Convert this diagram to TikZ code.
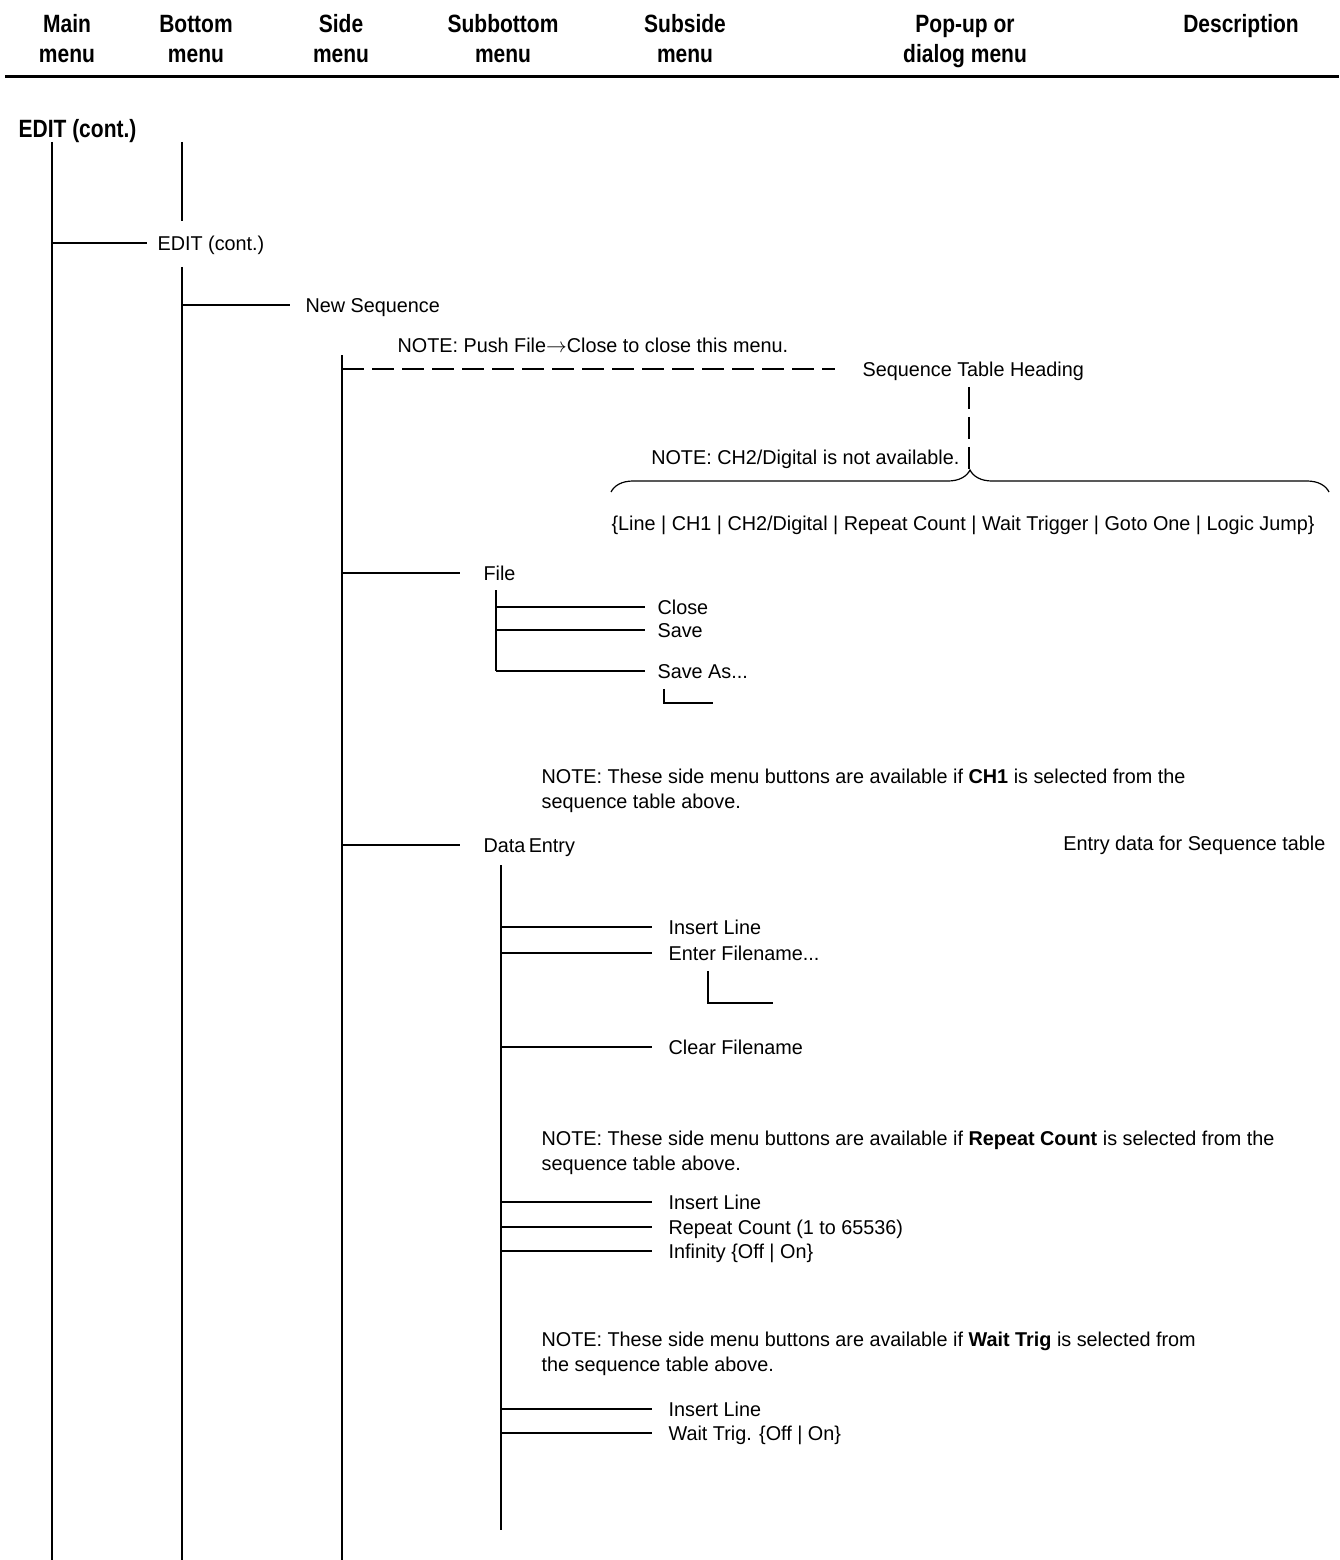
\documentclass[tikz,border=0pt]{standalone}
\usepackage{fontspec}
\setmainfont{Liberation Sans}[FakeStretch=0.99]
\newfontfamily\headfont{Liberation Sans}[FakeStretch=0.84]
\usetikzlibrary{decorations.pathreplacing}

\tikzset{
  menu/.style={anchor=west, inner sep=0pt, text height=14.5pt, text depth=0pt},
  head/.style={anchor=base, align=center, inner sep=0pt, font=\headfont\bfseries\fontsize{25}{30}\selectfont},
  note/.style={anchor=base west, align=left, inner sep=0pt},
  dashline/.style={dash pattern=on 22pt off 8pt},
}

\begin{document}
\begin{tikzpicture}[x=1pt, y=-1pt, line width=1.2pt,
    font=\fontsize{20}{25}\selectfont]
  \useasboundingbox (0,0) rectangle (1339,1560);

  % column headings (base = last line)
  \node[head] (hMain) at (67,63) {Main\\menu};
  \node[head] (hBottom) at (196,63) {Bottom\\menu};
  \node[head] (hSide) at (341,63) {Side\\menu};
  \node[head] (hSubbottom) at (503,63) {Subbottom\\menu};
  \node[head] (hSubside) at (685,63) {Subside\\menu};
  \node[head] (hPopup) at (965,63) {Pop-up or\\dialog menu};
  \node[head] (hDesc) at (1241,33) {Description};
  \draw[line width=3pt] (5,77) -- (1339,77);

  % trunks
  \coordinate (mainT) at (52,142);   \coordinate (mainB) at (52,1560);
  \coordinate (botT) at (182,142);   \coordinate (botB) at (182,1560);
  \coordinate (sideT) at (342,355);  \coordinate (sideB) at (342,1560);
  \coordinate (fileT) at (496,590);
  \coordinate (entT) at (501,865);   \coordinate (entB) at (501,1530);
  \coordinate (tip) at (969,470);

  \node[menu, font=\headfont\bfseries\fontsize{25}{30}\selectfont] (editMain) at (18,130) {EDIT (cont.)};
  \node[menu] (editBot) at (157,243) {EDIT (cont.)};
  \node[menu] (newSeq) at (305,305) {New Sequence};
  \node[menu] (noteClose) at (397,345) {NOTE: Push File$\rightarrow$Close to close this menu.};

  \draw (mainT) -- (mainB);
  \draw (botT) -- ([yshift=14pt]editBot.north -| botT);
  \draw ([yshift=-16pt]editBot.south -| botT) -- (botB);
  \draw (sideT) -- (sideB);
  \draw[shorten >=10pt] (editBot.west -| mainT) -- (editBot.west);
  \draw[shorten >=15pt] (newSeq.west -| botT) -- (newSeq.west);

  % sequence table
  \node[menu] (seqHead) at (862,369) {Sequence Table Heading};
  \draw[dashline, shorten >=27pt] (seqHead.west -| sideT) -- (seqHead.west);
  \draw[dashline, shorten <=10pt] (tip |- seqHead.south) -- (tip);
  \node[menu, anchor=east] (noteCH2) at (960,457) {NOTE: CH2/Digital is not available.};
  \draw[decorate, decoration={brace, amplitude=22pt}] (611,492) -- (1329,492);
  \node[menu] (fields) at (611,523) {\{Line | CH1 | CH2/Digital | Repeat Count | Wait Trigger | Goto One | Logic Jump\}};

  % File
  \node[menu] (file) at (483,573) {File};
  \draw[shorten >=23pt] (file.west -| sideT) -- (file.west);
  \node[menu] (close) at (657,607) {Close};
  \node[menu] (save) at (657,630) {Save};
  \node[menu] (saveAs) at (657,671) {Save As...};
  \draw (fileT) -- (saveAs.west -| fileT);
  \foreach \n in {close,save,saveAs}
    \draw[shorten >=12pt] (\n.west -| fileT) -- (\n.west);
  \coordinate (saveAsEnd) at (713,703);
  \draw ([xshift=7pt,yshift=-10pt]saveAs.south west) |- (saveAsEnd);

  % Data Entry
  \node[note] (noteCH1) at (541,808) {NOTE: These side menu buttons are available if \textbf{CH1} is selected from the\\sequence table above.};
  \node[menu] (dataEntry) at (483,845) {Data\,Entry};
  \node[menu, anchor=east] (entryDesc) at (1326,843) {Entry data for Sequence table};
  \draw[shorten >=23pt] (dataEntry.west -| sideT) -- (dataEntry.west);
  \draw (entT) -- (entB);

  \node[menu] (insA) at (668,927) {Insert Line};
  \node[menu] (enterFn) at (668,953) {Enter Filename...};
  \node[menu] (clearFn) at (668,1047) {Clear Filename};
  \coordinate (enterFnEnd) at (773,1003);
  \draw ([xshift=40pt,yshift=-10pt]enterFn.south west) |- (enterFnEnd);

  \node[note] (noteRep) at (541,1170) {NOTE: These side menu buttons are available if \textbf{Repeat Count} is selected from the\\sequence table above.};
  \node[menu] (insB) at (668,1202) {Insert Line};
  \node[menu] (repCount) at (668,1227) {Repeat Count (1 to 65536)};
  \node[menu] (infinity) at (668,1251) {Infinity \{Off | On\}};

  \node[note] (noteWait) at (541,1371) {NOTE: These side menu buttons are available if \textbf{Wait Trig} is selected from\\the sequence table above.};
  \node[menu] (insC) at (668,1409) {Insert Line};
  \node[menu] (waitTrig) at (668,1433) {Wait Trig. \{Off | On\}};

  \foreach \n in {insA,enterFn,clearFn,insB,repCount,infinity,insC,waitTrig}
    \draw[shorten >=16pt] (\n.west -| entT) -- (\n.west);
\end{tikzpicture}
\end{document}
